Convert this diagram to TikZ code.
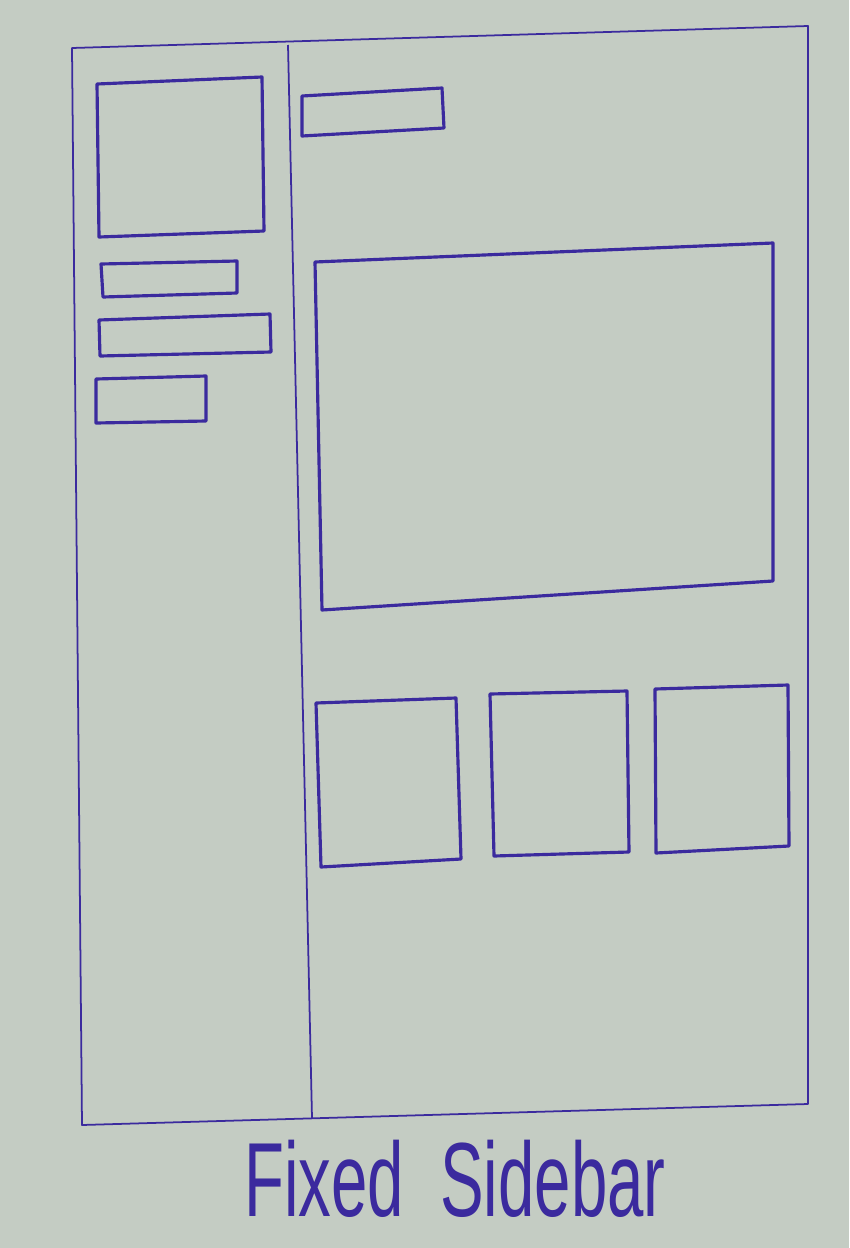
\documentclass[tikz,border=0pt]{standalone}
\usepackage{fontspec}
\usepackage{graphicx}
\setmainfont{Liberation Sans}
\definecolor{paper}{HTML}{C4CCC3}
\definecolor{ink}{HTML}{3B2A9E}
\begin{document}
\begin{tikzpicture}[
  x=0.02cm, y=-0.02cm,
  frameline/.style={draw=ink, line width=1pt, line join=round},
  boxline/.style={draw=ink, line width=1.8pt, line join=round, line cap=round},
  caption/.style={text=ink, font=\fontsize{60}{60}\selectfont, inner sep=0pt},
]
  % Paper
  \fill[paper] (0,0) rectangle (849,1248);
  \useasboundingbox (0,0) rectangle (849,1248);

  % Page frame
  \draw[frameline] (72,48) -- (808,26) -- (808,1104) -- (82,1125) -- cycle;
  % Sidebar divider
  \draw[frameline] (288,45) -- (312,1118);

  % Sidebar: picture and menu bars
  \draw[boxline] (97,84) -- (262,77) -- (264,231) -- (99,237) -- cycle;
  \draw[boxline] (101,264) -- (237,261) -- (237,293) -- (103,297) -- cycle;
  \draw[boxline] (99,320) -- (270,314) -- (271,352) -- (100,356) -- cycle;
  \draw[boxline] (96,379) -- (206,376) -- (206,421) -- (96,423) -- cycle;

  % Main: heading and banner
  \draw[boxline] (302,96) -- (442,88) -- (444,128) -- (302,136) -- cycle;
  \draw[boxline] (315,262) -- (773,243) -- (773,581) -- (322,610) -- cycle;

  % Main: cards
  \draw[boxline] (316,703) -- (456,698) -- (461,859) -- (321,867) -- cycle;
  \draw[boxline] (490,694) -- (627,691) -- (629,852) -- (494,856) -- cycle;
  \draw[boxline] (655,689) -- (788,685) -- (789,846) -- (656,853) -- cycle;

  % Caption
  \node[caption] (title) at (455,1179) {\scalebox{0.62}[1]{Fixed\ \ Sidebar}};
\end{tikzpicture}
\end{document}
